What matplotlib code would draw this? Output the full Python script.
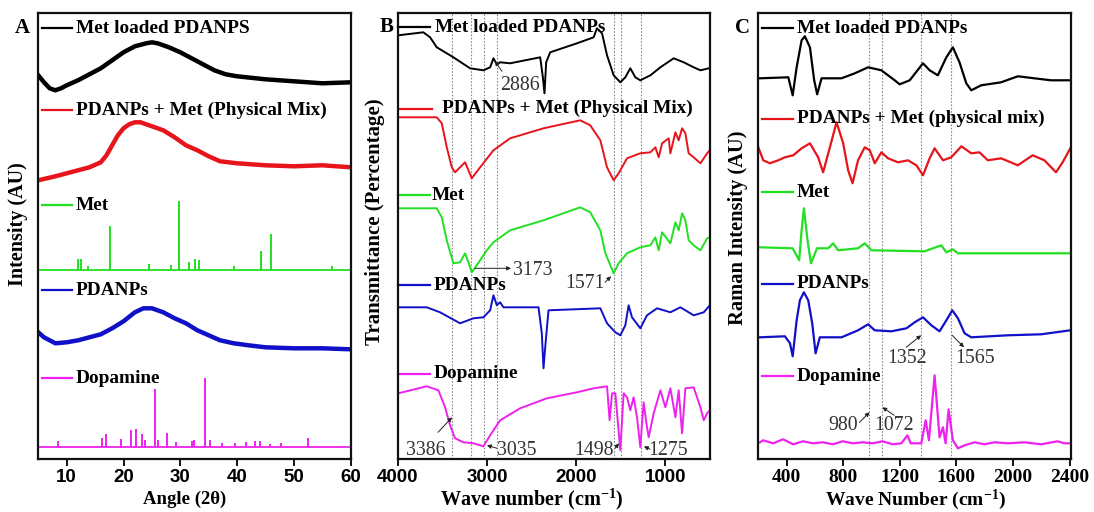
import matplotlib
matplotlib.use('Agg')
import matplotlib.pyplot as plt

plt.rcParams['mathtext.fontset'] = 'custom'
plt.rcParams['mathtext.rm'] = 'Liberation Serif'
plt.rcParams['mathtext.bf'] = 'Liberation Serif:bold'
plt.rcParams['mathtext.it'] = 'Liberation Serif:italic'

SERIF = 'Liberation Serif'
SANS = 'Liberation Sans'

# ---------------- DATA ----------------
names_A = ['Met loaded PDANPS', 'PDANPs + Met (Physical Mix)', 'Met', 'PDANPs', 'Dopamine']
names_B = ['Met loaded PDANPs', 'PDANPs + Met (Physical Mix)', 'Met', 'PDANPs', 'Dopamine']
names_C = ['Met loaded PDANPs', 'PDANPs + Met (physical mix)', 'Met', 'PDANPs', 'Dopamine']
colors = ['#000000', '#e8141c', '#22e022', '#1010c8', '#ee22ee']

# Panel A : XRD (2theta, intensity AU)
A_loaded_x = [5, 6, 7, 8, 9, 10, 12, 14, 16, 18, 20, 22, 24, 25, 26, 28, 30, 32, 34, 36, 38, 40, 45, 50, 55, 60]
A_loaded_y = [384, 377, 371, 369, 371, 374, 379, 385, 391, 399, 407, 413, 416, 417, 416, 412, 407, 401, 395, 389, 385, 383, 380, 378, 376, 377]

A_mix_x = [5, 8, 10, 12, 14, 16, 17, 18, 19, 20, 21, 22, 23, 24, 25, 27, 29, 31, 33, 35, 37, 40, 45, 50, 55, 60]
A_mix_y = [279, 283, 286, 289, 292, 297, 304, 314, 324, 331, 335, 337, 337, 335, 333, 329, 322, 314, 309, 303, 298, 296, 294, 293, 294, 292]

A_met_base = 189
A_met_peak_x = [12.0, 12.6, 13.8, 17.7, 24.5, 28.3, 29.8, 31.5, 32.5, 33.3, 39.5, 44.2, 45.9, 56.7]
A_met_peak_y = [200, 200, 193, 233, 195, 194, 258, 197, 200, 199, 193, 208, 225, 193]

A_pda_x = [5, 6, 8, 10, 12, 14, 16, 18, 20, 22, 23.5, 25, 27, 29, 31, 33, 35, 37, 39.4, 42, 45, 50, 55, 60]
A_pda_y = [127, 122, 116, 117, 119, 122, 125, 131, 138, 147, 151, 151, 147, 141, 136, 129, 124, 119, 116, 114, 112, 111, 111, 110]

A_dop_base = 12
A_dop_peak_x = [8.4, 16.2, 16.9, 19.5, 21.3, 22.2, 23.2, 23.8, 25.5, 26.0, 27.6, 29.2, 32.0, 32.4, 34.3, 35.3,
                37.3, 39.6, 41.5, 43.2, 44.0, 45.8, 47.8, 52.5, 58.0]
A_dop_peak_y = [18, 21, 25, 20, 29, 30, 25, 19, 70, 19, 26, 17, 18, 19, 81, 19,
                16, 16, 17, 18, 18, 15, 16, 21, 13]

# Panel B : FTIR (wavenumber, transmittance AU)
B_loaded_x = [3993, 3713, 3637, 3562, 3376, 3189, 3039, 2964, 2927, 2889, 2852, 2740, 2403, 2373, 2355, 2336, 2291,
              1991, 1804, 1767, 1710, 1654, 1580, 1505, 1449, 1393, 1337, 1281, 1168, 1056, 907, 795, 683, 607, 514]
B_loaded_y = [424, 427, 422, 412, 402, 391, 389, 392, 401, 395, 397, 396, 402, 382, 366, 397, 407,
              416, 422, 431, 426, 404, 384, 377, 382, 391, 382, 379, 384, 392, 401, 397, 392, 389, 391]

B_mix_x = [3993, 3562, 3506, 3450, 3394, 3357, 3301, 3245, 3207, 3170, 3076, 2927, 2740, 2366, 1954, 1842, 1729,
           1654, 1580, 1524, 1430, 1281, 1168, 1112, 1075, 1037, 963, 944, 888, 851, 813, 776, 739, 683, 607, 532, 502]
B_mix_y = [342, 342, 336, 312, 292, 287, 292, 297, 289, 281, 292, 309, 321, 331, 339, 334, 319,
           292, 279, 286, 301, 306, 307, 312, 302, 316, 321, 306, 327, 319, 331, 326, 306, 302, 296, 306, 309]

B_met_x = [3993, 3562, 3506, 3450, 3376, 3301, 3245, 3207, 3170, 3076, 3002, 2927, 2740, 2366, 1954, 1842, 1729,
           1673, 1654, 1580, 1524, 1430, 1281, 1168, 1112, 1075, 1037, 944, 888, 851, 813, 776, 739, 683, 607, 532, 502]
B_met_y = [251, 251, 242, 219, 196, 197, 206, 197, 187, 199, 209, 217, 229, 239, 252, 247, 229,
           206, 202, 186, 196, 206, 212, 214, 222, 209, 227, 216, 237, 229, 246, 239, 219, 214, 209, 221, 222]

B_pda_x = [3993, 3675, 3525, 3301, 3151, 3039, 2964, 2927, 2889, 2852, 2815, 2422, 2385, 2366, 2343, 2310,
           1729, 1654, 1561, 1505, 1449, 1412, 1374, 1281, 1206, 1093, 944, 832, 683, 570, 502]
B_pda_y = [152, 152, 147, 136, 141, 142, 149, 164, 154, 157, 152, 152, 126, 91, 116, 149,
           151, 136, 127, 124, 134, 154, 142, 131, 144, 151, 147, 152, 144, 147, 154]

B_dop_x = [3993, 3675, 3544, 3469, 3413, 3357, 3264, 3151, 3039, 2964, 2852, 2628, 2328, 1991, 1804, 1654, 1625,
           1598, 1561, 1505, 1468, 1430, 1393, 1356, 1318, 1281, 1244, 1213, 1187, 1131, 1056, 1000, 944, 888,
           851, 813, 776, 683, 607, 570, 532, 502]
B_dop_y = [66, 73, 69, 52, 34, 21, 17, 16, 13, 24, 39, 51, 61, 67, 71, 73, 39,
           66, 66, 9, 66, 62, 49, 62, 42, 12, 57, 36, 22, 46, 69, 52, 71, 42,
           69, 26, 71, 72, 52, 39, 46, 49]

B_marks = [3386, 3173, 3035, 2886, 1571, 1498, 1275]

# Panel C : Raman (wavenumber, intensity AU)
C_loaded_x = [212, 412, 443, 471, 506, 529, 565, 595, 616, 647, 788, 882, 976, 1070, 1164, 1199, 1270, 1364, 1411,
              1469, 1529, 1575, 1622, 1670, 1705, 1775, 1916, 2034, 2151, 2269, 2405]
C_loaded_y = [381, 382, 364, 392, 419, 423, 412, 379, 365, 381, 381, 386, 392, 389, 379, 375, 379, 396, 389,
              384, 402, 412, 397, 376, 369, 374, 377, 383, 381, 379, 379]

C_mix_x = [200, 235, 282, 341, 388, 447, 506, 565, 623, 658, 706, 753, 800, 835, 866, 905, 952, 988, 1023, 1070,
           1117, 1187, 1258, 1317, 1364, 1411, 1446, 1505, 1564, 1635, 1705, 1763, 1822, 1916, 2034, 2139, 2222,
           2304, 2351, 2405]
C_mix_y = [312, 299, 296, 299, 302, 304, 311, 316, 302, 287, 312, 337, 316, 289, 276, 299, 312, 309, 296, 307,
           301, 297, 299, 294, 284, 301, 311, 299, 302, 313, 306, 307, 299, 301, 294, 304, 299,
           287, 297, 311]

C_met_x = [212, 443, 489, 506, 522, 548, 572, 615, 694, 729, 764, 905, 952, 1000, 1375, 1493, 1529, 1575, 1611, 2405]
C_met_y = [212, 211, 199, 229, 251, 219, 196, 211, 211, 216, 209, 211, 216, 209, 208, 214, 207, 210, 206, 206]

C_pda_x = [212, 388, 424, 443, 471, 494, 522, 553, 581, 605, 635, 788, 905, 976, 1023, 1141, 1247, 1305, 1364,
           1423, 1481, 1529, 1571, 1611, 1658, 1705, 1963, 2199, 2405]
C_pda_y = [122, 123, 116, 103, 139, 159, 167, 159, 136, 106, 122, 122, 129, 135, 129, 128, 131, 137, 142,
           134, 128, 139, 149, 141, 126, 122, 124, 125, 129]

C_dop_x = [212, 234, 305, 375, 446, 516, 586, 656, 727, 797, 867, 938, 1008, 1079, 1150, 1211, 1254, 1277, 1352,
           1383, 1406, 1446, 1481, 1505, 1524, 1545, 1575, 1611, 1658, 1728, 1798, 1869, 1963, 2080, 2198, 2315,
           2363, 2405]
C_dop_y = [17, 19, 16, 20, 15, 18, 16, 17, 15, 18, 16, 17, 16, 18, 15, 16, 24, 16, 16,
           39, 19, 84, 22, 32, 16, 50, 19, 11, 14, 17, 15, 17, 16, 17, 15, 18,
           16, 16]

C_marks = [980, 1072, 1352, 1565]

ticks_A = [10, 20, 30, 40, 50, 60]
ticks_B = [4000, 3000, 2000, 1000]
ticks_C = [400, 800, 1200, 1600, 2000, 2400]

# annotations: text, text position, arrow tail, arrow head
ann_B = [('2886', (2629, 374), (2831, 388), (2910, 398)),
         ('3173', (2490, 189), (3134, 191), (2730, 191)),
         ('1571', (1900, 176), (1676, 177), (1609, 183)),
         ('3386', (3683, 9), (3548, 27), (3391, 42)),
         ('3035', (2662, 9), (2887, 11), (3000, 14)),
         ('1498', (1799, 9), (1564, 11), (1520, 16)),
         ('1275', (970, 9), (1172, 10), (1240, 13))]
ann_C = [('1352', (1253, 101), (1245, 112), (1351, 124)),
         ('1565', (1731, 101), (1570, 124), (1654, 112)),
         ('980', (802, 34), (915, 37), (986, 47)),
         ('1072', (1161, 34), (1161, 44), (1077, 52))]

# ---------------- FIGURE ----------------
W, H = 1094, 512
fig = plt.figure(figsize=(W / 100, H / 100), dpi=100)


def px_ax(left, right, top=13.3, bottom=459.3):
    return fig.add_axes([left / W, 1 - bottom / H, (right - left) / W, (bottom - top) / H])


axA = px_ax(38.3, 350.7)
axB = px_ax(397.7, 710.0)
axC = px_ax(758.3, 1071.0)


def style(ax, xlim, ticks, tickfamily, ticksize):
    ax.set_xlim(*xlim)
    ax.set_ylim(0, 446)
    ax.set_yticks([])
    ax.set_xticks(ticks)
    ax.set_xticklabels([str(t) for t in ticks], fontfamily=tickfamily, fontweight='bold', fontsize=ticksize)
    ax.tick_params(axis='x', direction='out', length=5, width=1.3, pad=2, top=False)
    for s in ax.spines.values():
        s.set_linewidth(1.6)
        s.set_color('#111111')


style(axA, (5, 60), ticks_A, SANS, 13.5)
style(axB, (4000, 500), ticks_B, SANS, 13.5)
style(axC, (200, 2410), ticks_C, SERIF, 14)

# Panel A
axA.plot(A_loaded_x, A_loaded_y, color=colors[0], lw=3.2, solid_joinstyle='round')
axA.plot(A_mix_x, A_mix_y, color=colors[1], lw=3.2, solid_joinstyle='round')
axA.plot([5, 60], [A_met_base, A_met_base], color=colors[2], lw=1.3)
axA.vlines(A_met_peak_x, A_met_base, A_met_peak_y, colors=colors[2], lw=1.4)
axA.plot(A_pda_x, A_pda_y, color=colors[3], lw=3.2, solid_joinstyle='round')
axA.plot([5, 60], [A_dop_base, A_dop_base], color=colors[4], lw=1.3)
axA.vlines(A_dop_peak_x, A_dop_base, A_dop_peak_y, colors=colors[4], lw=1.4)

# Panel B
for m in B_marks:
    axB.axvline(m, color='#888888', lw=0.8, ls=(0, (1.5, 1.5)), zorder=0)
for xs, ys, c in [(B_loaded_x, B_loaded_y, colors[0]), (B_mix_x, B_mix_y, colors[1]),
                  (B_met_x, B_met_y, colors[2]), (B_pda_x, B_pda_y, colors[3]),
                  (B_dop_x, B_dop_y, colors[4])]:
    axB.plot(xs, ys, color=c, lw=1.4)

# Panel C
for m in C_marks:
    axC.axvline(m, color='#888888', lw=0.8, ls=(0, (1.5, 1.5)), zorder=0)
for xs, ys, c in [(C_loaded_x, C_loaded_y, colors[0]), (C_mix_x, C_mix_y, colors[1]),
                  (C_met_x, C_met_y, colors[2]), (C_pda_x, C_pda_y, colors[3]),
                  (C_dop_x, C_dop_y, colors[4])]:
    axC.plot(xs, ys, color=c, lw=1.6)

# trace labels with short line handles (positions in axes fractions)
label_rows = {
    'A': (axA, names_A, [0.966, 0.783, 0.570, 0.379, 0.182], [(0.011, 0.107, 0.12)] * 5),
    'B': (axB, names_B, [0.969, 0.786, 0.592, 0.390, 0.192],
          [(0.001, 0.103, 0.119), (0.007, 0.110, 0.141), (0.001, 0.103, 0.108), (0.001, 0.103, 0.114), (0.001, 0.103, 0.114)]),
    'C': (axC, names_C, [0.966, 0.764, 0.599, 0.394, 0.186], [(0.011, 0.112, 0.123)] * 5),
}
for key, (ax, names, ys, xs) in label_rows.items():
    for name, y, (x0, x1, xt), c in zip(names, ys, xs, colors):
        ax.plot([x0, x1], [y, y], transform=ax.transAxes, color=c, lw=1.6, clip_on=False)
        ax.text(xt, y, name, transform=ax.transAxes, ha='left', va='center',
                fontfamily=SERIF, fontweight='bold', fontsize=13.9)

# annotations
for ax, anns in [(axB, ann_B), (axC, ann_C)]:
    for txt, tpos, tail, head in anns:
        ax.text(tpos[0], tpos[1], txt, ha='center', va='center', fontfamily=SERIF,
                fontsize=14.3, color='#333333')
        ax.annotate('', xy=head, xytext=tail,
                    arrowprops=dict(arrowstyle='-|>', color='#222222', lw=0.7,
                                    mutation_scale=6, shrinkA=0, shrinkB=0))

# panel letters
for letter, px, py in [('A', 22, 28), ('B', 387, 27), ('C', 742, 28)]:
    fig.text(px / W, 1 - py / H, letter, ha='center', va='center', fontfamily=SERIF,
             fontweight='bold', fontsize=15)

# axis labels
fig.text(185 / W, 1 - 499 / H, 'Angle (2\u03b8)', ha='center', va='center',
         fontfamily=SERIF, fontweight='bold', fontsize=13.5)
fig.text(532 / W, 1 - 499 / H, r'Wave number (cm$^{\mathbf{-1}}$)', ha='center', va='center',
         fontfamily=SERIF, fontweight='bold', fontsize=14.5)
fig.text(916 / W, 1 - 500 / H, r'Wave Number (cm$^{\mathbf{-1}}$)', ha='center', va='center',
         fontfamily=SERIF, fontweight='bold', fontsize=14)
fig.text(18 / W, 1 - 224 / H, 'Intensity (AU)', ha='center', va='center', rotation=90,
         fontfamily=SERIF, fontweight='bold', fontsize=14.5)
fig.text(375 / W, 1 - 222 / H, 'Transmittance (Percentage)', ha='center', va='center', rotation=90,
         fontfamily=SERIF, fontweight='bold', fontsize=15)
fig.text(738 / W, 1 - 228 / H, 'Raman Intensity (AU)', ha='center', va='center', rotation=90,
         fontfamily=SERIF, fontweight='bold', fontsize=14.8)

fig.savefig('out.png', dpi=100)
